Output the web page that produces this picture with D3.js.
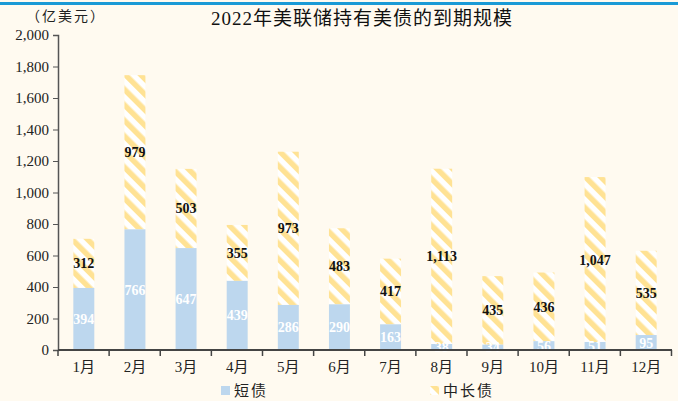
<!DOCTYPE html>
<html>
<head>
<meta charset="utf-8">
<script src="https://cdn.jsdelivr.net/npm/d3@7"></script>
<style>
  body { margin: 0; background: #fffaf0; }
  svg { display: block; }
</style>
</head>
<body>
<div id="chart"></div>
<script>
// data
let months = ['1月', '2月', '3月', '4月', '5月', '6月', '7月', '8月', '9月', '10月', '11月', '12月'];
let shortTerm = [394, 766, 647, 439, 286, 290, 163, 38, 34, 56, 51, 95];
let longTerm = [312, 979, 503, 355, 973, 483, 417, 1113, 435, 436, 1047, 535];
let yTicks = [0, 200, 400, 600, 800, 1000, 1200, 1400, 1600, 1800, 2000];

let width = 678, height = 401;
let serif = '"Liberation Serif", "Times New Roman", "Noto Sans CJK SC", serif';

let svg = d3.select('#chart').append('svg')
    .attr('width', width)
    .attr('height', height);

svg.append('rect')
    .attr('width', width).attr('height', height)
    .attr('fill', '#fffaf0');

// top rule
svg.append('rect')
    .attr('x', 0).attr('y', 2).attr('width', width).attr('height', 3)
    .attr('fill', '#1a9ad6');

let defs = svg.append('defs');
let pat = defs.append('pattern')
    .attr('id', 'stripes')
    .attr('patternUnits', 'userSpaceOnUse')
    .attr('width', 11).attr('height', 11)
    .attr('patternTransform', 'rotate(-45)');
pat.append('rect').attr('width', 11).attr('height', 11).attr('fill', '#ffffff');
pat.append('rect').attr('width', 5.5).attr('height', 11).attr('fill', '#ffe294');

let x = d3.scaleBand().domain(months).range([58, 672]).paddingInner(0.59).paddingOuter(0.3);
let y = d3.scaleLinear().domain([0, 2000]).range([350, 35]);

let bars = months.map((m, i) => ({ m: m, s: shortTerm[i], l: longTerm[i] }));

// long-term segment (stacked on top of short-term)
svg.selectAll('rect.long').data(bars).enter().append('rect')
    .attr('class', 'long')
    .attr('x', d => x(d.m))
    .attr('width', x.bandwidth())
    .attr('y', d => y(d.s + d.l))
    .attr('height', d => y(d.s) - y(d.s + d.l))
    .attr('fill', 'url(#stripes)');

svg.selectAll('rect.short').data(bars).enter().append('rect')
    .attr('class', 'short')
    .attr('x', d => x(d.m))
    .attr('width', x.bandwidth())
    .attr('y', d => y(d.s))
    .attr('height', d => y(0) - y(d.s))
    .attr('fill', '#bdd7ee');

// value labels
svg.selectAll('text.lv').data(bars).enter().append('text')
    .attr('class', 'lv')
    .attr('x', d => x(d.m) + x.bandwidth() / 2)
    .attr('y', d => y(d.s + d.l / 2) + 5)
    .attr('text-anchor', 'middle')
    .attr('font-family', serif)
    .attr('font-size', 14)
    .attr('font-weight', 'bold')
    .attr('fill', '#111')
    .text(d => d3.format(',')(d.l));

svg.selectAll('text.sv').data(bars).enter().append('text')
    .attr('class', 'sv')
    .attr('x', d => x(d.m) + x.bandwidth() / 2)
    .attr('y', d => y(d.s / 2) + 5)
    .attr('text-anchor', 'middle')
    .attr('font-family', serif)
    .attr('font-size', 14)
    .attr('font-weight', 'bold')
    .attr('fill', '#ffffff')
    .text(d => d.s);

// axes
let yAxis = svg.append('g')
    .attr('transform', 'translate(58,0)')
    .call(d3.axisLeft(y).tickValues(yTicks).tickFormat(d3.format(',')).tickSizeOuter(0).tickSize(5));
yAxis.select('.domain').attr('stroke', '#555').attr('stroke-width', 1.5);
yAxis.selectAll('.tick line').attr('stroke', '#555');
yAxis.selectAll('text').attr('font-family', serif).attr('font-size', 15).attr('fill', '#222').attr('x', -9);

let xAxis = svg.append('g')
    .attr('transform', 'translate(0,350)')
    .call(d3.axisBottom(x).tickSize(0).tickSizeOuter(0));
xAxis.select('.domain').remove();
xAxis.selectAll('text').attr('font-family', serif).attr('font-size', 15).attr('fill', '#222').attr('dy', '1.25em');

svg.append('line')
    .attr('x1', 58).attr('x2', 672).attr('y1', 350).attr('y2', 350)
    .attr('stroke', '#444').attr('stroke-width', 2);

// category boundary ticks
svg.selectAll('line.xt').data(d3.range(months.length + 1)).enter().append('line')
    .attr('class', 'xt')
    .attr('x1', i => 58 + i * x.step()).attr('x2', i => 58 + i * x.step())
    .attr('y1', 350).attr('y2', 356)
    .attr('stroke', '#444').attr('stroke-width', 1.5);

// titles
svg.append('text')
    .attr('x', 362).attr('y', 25)
    .attr('text-anchor', 'middle')
    .attr('font-family', serif)
    .attr('font-size', 19)
    .attr('letter-spacing', 1)
    .attr('fill', '#111')
    .text('2022年美联储持有美债的到期规模');

svg.append('text')
    .attr('x', 26).attr('y', 21)
    .attr('font-family', serif)
    .attr('font-size', 14)
    .attr('letter-spacing', 2)
    .attr('fill', '#222')
    .text('（亿美元）');

// legend
let legend = [
    { label: '短债', fill: '#bdd7ee', x: 221 },
    { label: '中长债', fill: 'url(#stripes)', x: 430 }
];
let lg = svg.selectAll('g.lg').data(legend).enter().append('g')
    .attr('class', 'lg')
    .attr('transform', d => 'translate(' + d.x + ',386)');
lg.append('rect').attr('width', 9).attr('height', 9).attr('fill', d => d.fill);
lg.append('text')
    .attr('x', 13).attr('y', 10)
    .attr('font-family', serif)
    .attr('font-size', 15)
    .attr('letter-spacing', 2)
    .attr('fill', '#222')
    .text(d => d.label);
</script>
</body>
</html>
